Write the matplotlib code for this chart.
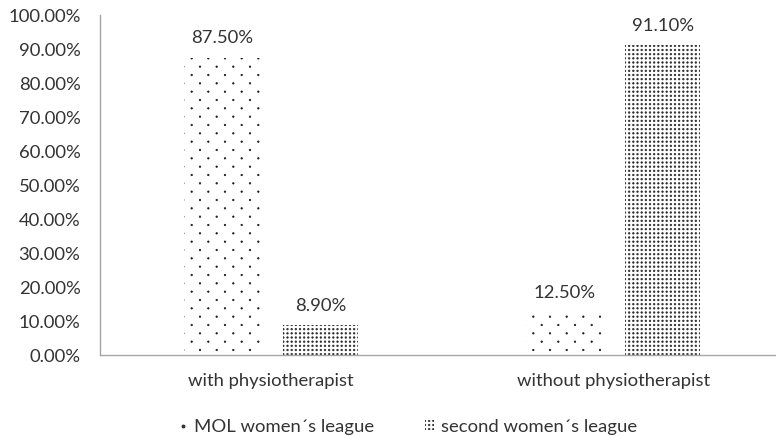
import matplotlib
matplotlib.use("Agg")
import matplotlib.pyplot as plt
import matplotlib.hatch as mhatch
from matplotlib.path import Path
from matplotlib.patches import Patch
from matplotlib.lines import Line2D
from matplotlib.ticker import FuncFormatter
import numpy as np

categories = ["with physiotherapist", "without physiotherapist"]
series_names = ["MOL women\u00b4s league", "second women\u00b4s league"]
mol_values = [87.5, 12.5]
second_values = [8.9, 91.1]
yticks = [0, 10, 20, 30, 40, 50, 60, 70, 80, 90, 100]


class OfficeDots(mhatch.Shapes):
    """'.' -> sparse staggered dots, '....' -> dense square grid of dots."""
    filled = True

    def __init__(self, hatch, density):
        circ = Path.unit_circle()
        self.shape_vertices = circ.vertices
        self.shape_codes = circ.codes
        c = hatch.count('.')
        pts = []
        self.radius = 0.0
        self.num_rows = 0
        if c == 1:
            n = 6
            self.radius = 0.0075
            for r in range(2 * n + 1):
                if r % 2 == 0:
                    cols = np.linspace(0, 1, n + 1)
                else:
                    cols = np.linspace(0.5 / n, 1 - 0.5 / n, n)
                for cx in cols:
                    pts.append((cx, r / (2 * n)))
            self.num_rows = n
        elif c >= 2:
            n = c * density
            self.radius = 0.0078
            for r in range(n + 1):
                for cx in np.linspace(0, 1, n + 1):
                    pts.append((cx, r / n))
            self.num_rows = n
        self.pts = pts
        self.num_shapes = len(pts)
        self.num_vertices = self.num_shapes * len(self.shape_vertices)

    def set_vertices_and_codes(self, vertices, codes):
        sv = self.shape_vertices * self.radius
        vparts, cparts = [], []
        for (px, py) in self.pts:
            vparts.append(sv + [px, py])
            cparts.append(self.shape_codes)
        np.concatenate(vparts, out=vertices)
        np.concatenate(cparts, out=codes)


mhatch._hatch_types[:] = [t for t in mhatch._hatch_types
                          if t is not mhatch.SmallFilledCircles] + [OfficeDots]

plt.rcParams['font.family'] = ['Lato', 'DejaVu Sans']
plt.rcParams['hatch.linewidth'] = 0.5
txt = '#333333'
fs = 13.3

fig = plt.figure(figsize=(7.76, 4.38), dpi=100)
ax = fig.add_axes([100/776, 83/438, 676/776, 340/438])

x = np.arange(len(categories))
w = 0.22
off = 0.144
b1 = ax.bar(x - off, mol_values, w, color='white', edgecolor='#1a1a1a', linewidth=0,
            hatch='.', label=series_names[0])
b2 = ax.bar(x + off, second_values, w, color='white', edgecolor='#2a2a2a', linewidth=0,
            hatch='....', label=series_names[1])

for bars, vals in ((b1, mol_values), (b2, second_values)):
    for r, v in zip(bars, vals):
        ax.annotate(f"{v:.2f}%", (r.get_x() + r.get_width()/2, v), xytext=(0, 8),
                    textcoords='offset points', ha='center', va='bottom',
                    fontsize=fs, color=txt)

ax.set_xlim(-0.5, 1.475)
ax.set_ylim(0, 100)
ax.set_yticks(yticks)
ax.yaxis.set_major_formatter(FuncFormatter(lambda v, p: f"{v:.2f}%"))
ax.set_xticks(x)
ax.set_xticklabels(categories)
ax.tick_params(axis='both', length=0, labelsize=fs, colors=txt)
ax.tick_params(axis='x', pad=13)
ax.tick_params(axis='y', pad=14)
for s in ('top', 'right'):
    ax.spines[s].set_visible(False)
for s in ('left', 'bottom'):
    ax.spines[s].set_color('#a6a6a6')
    ax.spines[s].set_linewidth(1)

h1 = Line2D([], [], linestyle='none', marker='o', markersize=1.8,
            markerfacecolor='#333333', markeredgecolor='#333333')
h2 = Patch(facecolor='white', edgecolor='#2a2a2a', linewidth=0, hatch='....')
leg = fig.legend(handles=[h1, h2], labels=series_names, loc='center',
                 bbox_to_anchor=(408/776, 1 - 427/438),
                 ncol=2, frameon=False, fontsize=fs, handlelength=0.45, handleheight=0.45,
                 columnspacing=2.75, handletextpad=0.4, labelcolor=txt)

fig.savefig("out.png", dpi=100)
